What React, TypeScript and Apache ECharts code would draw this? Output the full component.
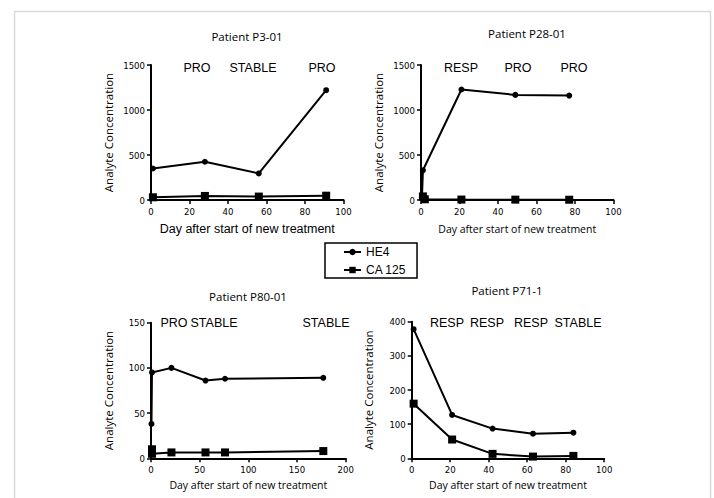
import React, { useEffect, useRef } from "react";
import * as echarts from "echarts";

// Panel 1: Patient P3-01
const p1Days = [1, 28, 56, 91];
const p1HE4 = [350, 425, 295, 1220];
const p1CA125 = [30, 45, 38, 48];
const p1Status = ["PRO", "STABLE", "PRO"];

// Panel 2: Patient P28-01
const p2HE4Days = [0.5, 1, 21, 49, 77];
const p2HE4 = [30, 330, 1228, 1168, 1160];
const p2CADays = [1, 2, 21, 49, 77];
const p2CA125 = [40, 8, 5, 4, 3];
const p2Status = ["RESP", "PRO", "PRO"];

// Panel 3: Patient P80-01
const p3HE4Days = [0.5, 1, 21, 56, 76, 177];
const p3HE4 = [38, 95, 100, 86, 88, 89];
const p3CADays = [1, 1, 21, 56, 76, 177];
const p3CA125 = [10, 5, 6.5, 6.5, 6.5, 8];
const p3Status = ["PRO", "STABLE", "STABLE"];

// Panel 4: Patient P71-1
const p4Days = [1, 21, 42, 63, 84];
const p4HE4 = [378, 127, 87, 72, 75];
const p4CA125 = [160, 55, 13, 5, 7];
const p4Status = ["RESP", "RESP", "RESP", "STABLE"];

const titles = ["Patient P3-01", "Patient P28-01", "Patient P80-01", "Patient P71-1"];
const xName = "Day after start of new treatment";
const yName = "Analyte Concentration";
const seriesNames = ["HE4", "CA 125"];

const yMax = [1500, 1500, 150, 400];
const yStep = [500, 500, 50, 100];
const xMax = [100, 100, 200, 100];
const xStep = [20, 20, 50, 20];

const zip = (xs: number[], ys: number[]) => xs.map((x, i) => [x, ys[i]]);

const tickFont = "'Liberation Sans Narrow', 'DejaVu Sans Condensed', 'Liberation Sans', sans-serif";
const labelFont = "'Open Sans', 'Noto Sans', sans-serif";
const annFont = "'Liberation Sans', Arial, sans-serif";

export default function App() {
  const ref = useRef<HTMLDivElement>(null);
  useEffect(() => {
    if (!ref.current) return;
    const chart = echarts.init(ref.current, null, { renderer: "svg" });

    const grids = [
      { left: 151, top: 65, width: 192.5, height: 135 },
      { left: 421, top: 65, width: 192.5, height: 135 },
      { left: 151, top: 322.7, width: 194.7, height: 135.6 },
      { left: 411.7, top: 321.7, width: 192.5, height: 136.6 },
    ];
    const xGaps = [22, 23, 21, 21];
    const xNameSizes = [12.5, 10.5, 10.5, 10.5];
    const xNameFonts = [annFont, labelFont, labelFont, labelFont];

    const xAxes = grids.map((_, i) => ({
      type: "value",
      gridIndex: i,
      min: 0,
      max: xMax[i],
      interval: xStep[i],
      name: xName,
      nameLocation: "middle",
      nameGap: xGaps[i],
      nameTextStyle: { color: "#000", fontSize: xNameSizes[i], fontFamily: xNameFonts[i] },
      axisLine: { show: true, onZero: false, lineStyle: { color: "#000", width: 2 } },
      axisTick: { show: true, length: 4, lineStyle: { color: "#000", width: 1.5 } },
      axisLabel: {
        color: "#000",
        fontSize: 9.5,
        margin: 6,
        fontFamily: tickFont,
        formatter: (v: number) => String(v),
      },
      splitLine: { show: false },
    }));
    const yAxes = grids.map((_, i) => ({
      type: "value",
      gridIndex: i,
      min: 0,
      max: yMax[i],
      interval: yStep[i],
      name: yName,
      nameLocation: "middle",
      nameRotate: 90,
      nameGap: 37,
      nameTextStyle: { color: "#000", fontSize: 11.5, fontFamily: labelFont },
      axisLine: { show: true, onZero: false, lineStyle: { color: "#000", width: 2 } },
      axisTick: { show: true, length: 4, lineStyle: { color: "#000", width: 1.5 } },
      axisLabel: {
        color: "#000",
        fontSize: 9.5,
        margin: 6,
        fontFamily: tickFont,
        formatter: (v: number) => String(v),
      },
      splitLine: { show: false },
    }));

    const he4Data = [
      zip(p1Days, p1HE4),
      zip(p2HE4Days, p2HE4),
      zip(p3HE4Days, p3HE4),
      zip(p4Days, p4HE4),
    ];
    const caData = [
      zip(p1Days, p1CA125),
      zip(p2CADays, p2CA125),
      zip(p3CADays, p3CA125),
      zip(p4Days, p4CA125),
    ];
    const series: any[] = [];
    for (let i = 0; i < 4; i++) {
      series.push({
        name: seriesNames[0],
        type: "line",
        xAxisIndex: i,
        yAxisIndex: i,
        data: he4Data[i],
        symbol: "circle",
        symbolSize: 6,
        lineStyle: { color: "#000", width: 2 },
        itemStyle: { color: "#000" },
      });
      series.push({
        name: seriesNames[1],
        type: "line",
        xAxisIndex: i,
        yAxisIndex: i,
        data: caData[i],
        symbol: "rect",
        symbolSize: 8,
        lineStyle: { color: "#000", width: 2 },
        itemStyle: { color: "#000" },
      });
    }

    const titlePos = [
      [247, 36],
      [527, 33],
      [248, 296],
      [507, 290],
    ];
    const statusSets = [p1Status, p2Status, p3Status, p4Status];
    const statusPos = [
      [[197, 68], [253, 68], [322, 68]],
      [[461, 68], [518, 68], [574, 68]],
      [[174, 323], [214, 323], [326, 323]],
      [[447, 323], [487, 323], [531, 323], [578, 323]],
    ];

    const graphics: any[] = [
      {
        type: "rect",
        shape: { x: 14.5, y: 11.5, width: 696, height: 500 },
        style: { fill: "none", stroke: "#d9d9d9", lineWidth: 1.5 },
        silent: true,
      },
    ];
    titles.forEach((t, i) => {
      graphics.push({
        type: "text",
        x: titlePos[i][0],
        y: titlePos[i][1],
        style: {
          text: t,
          fill: "#000",
          fontSize: 11.5,
          fontFamily: labelFont,
          textAlign: "center",
          textVerticalAlign: "middle",
        },
      });
    });
    statusSets.forEach((set, i) => {
      set.forEach((s, j) => {
        graphics.push({
          type: "text",
          x: statusPos[i][j][0],
          y: statusPos[i][j][1],
          style: {
            text: s,
            fill: "#000",
            fontSize: 12.5,
            fontFamily: annFont,
            textAlign: "center",
            textVerticalAlign: "middle",
          },
        });
      });
    });

    chart.setOption({
      animation: false,
      backgroundColor: "#fff",
      grid: grids,
      xAxis: xAxes,
      yAxis: yAxes,
      series,
      legend: {
        data: seriesNames,
        left: 325,
        top: 243,
        orient: "vertical",
        itemWidth: 17,
        itemHeight: 8,
        itemGap: 6,
        padding: [3, 11, 2, 18],
        borderColor: "#000",
        borderWidth: 1.5,
        selectedMode: false,
        textStyle: { color: "#000", fontSize: 12, fontFamily: annFont },
      },
      graphic: graphics,
    });
    return () => chart.dispose();
  }, []);
  return (
    <div
      ref={ref}
      style={{ position: "fixed", left: 0, top: 0, width: 714, height: 498, background: "#fff" }}
    />
  );
}
